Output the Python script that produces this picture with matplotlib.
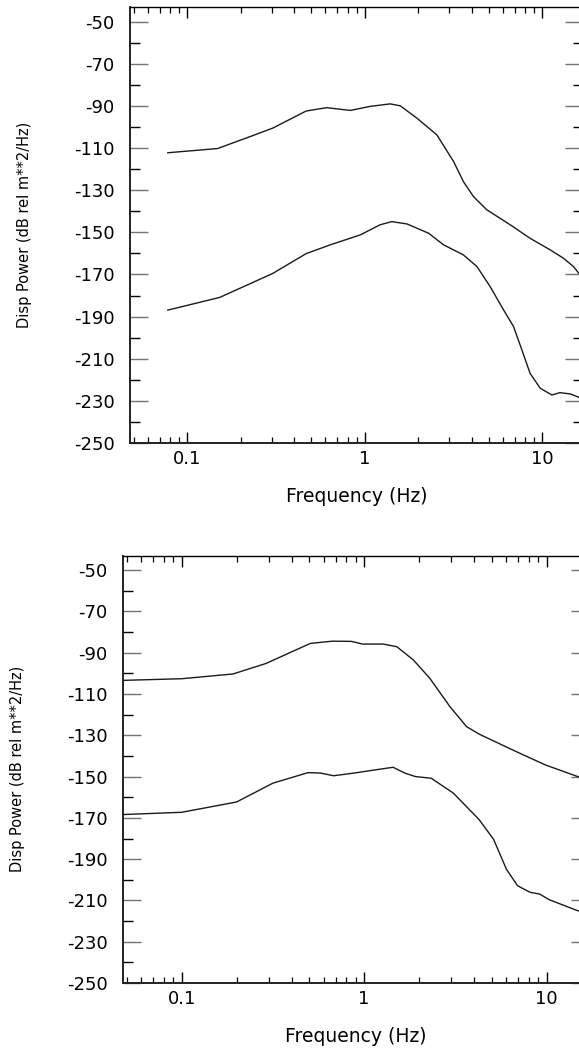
import matplotlib
matplotlib.use("Agg")
import matplotlib.pyplot as plt
from matplotlib import font_manager
from matplotlib.ticker import FixedLocator, LogLocator, NullFormatter, FuncFormatter
import numpy as np

# top panel, upper curve
freq_a1 = [0.0776, 0.148, 0.228, 0.303, 0.467, 0.608, 0.64, 0.83, 1.07, 1.39, 1.585,
           1.97, 2.55, 3.17, 3.60, 4.10, 4.88, 6.61, 8.55, 11.1, 13.2, 15.0, 16.1, 17.0]
pow_a1 = [-112.2, -110.2, -104.4, -100.5, -92.4, -90.8, -91.0, -92.1, -90.2, -89.0, -89.9,
          -95.8, -103.7, -116.4, -125.9, -133.0, -139.3, -146.4, -152.8, -158.3, -162.3, -166.2, -169.4, -171.0]

# top panel, lower curve
freq_a2 = [0.0776, 0.152, 0.303, 0.467, 0.64, 0.944, 1.22, 1.42, 1.73, 2.29, 2.78,
           3.60, 4.29, 5.09, 6.06, 6.90, 7.69, 8.55, 9.75, 11.35, 12.6, 14.4, 16.1, 17.0]
pow_a2 = [-186.9, -180.9, -169.5, -160.1, -155.9, -151.2, -146.4, -144.9, -146.0, -150.4, -155.9,
          -160.7, -166.2, -175.7, -186.8, -194.7, -205.8, -216.9, -224.0, -227.2, -226.1, -226.7, -228.3, -228.8]

# bottom panel, upper curve
freq_b1 = [0.0475, 0.1, 0.191, 0.29, 0.402, 0.507, 0.67, 0.85, 0.98, 1.27,
           1.51, 1.86, 2.29, 2.95, 3.64, 4.28, 6.81, 9.87, 14.8, 17.0]
pow_b1 = [-103.4, -102.6, -100.3, -95.2, -89.5, -85.5, -84.4, -84.5, -85.8, -85.8,
          -87.1, -93.5, -102.4, -116.1, -125.8, -129.5, -137.9, -144.4, -150.0, -151.2]

# bottom panel, lower curve
freq_b2 = [0.0475, 0.1, 0.2, 0.316, 0.492, 0.577, 0.68, 0.88, 1.16, 1.44,
           1.68, 1.91, 2.33, 3.08, 4.26, 5.12, 6.02, 6.93, 8.14, 9.15, 10.3, 14.7, 17.0]
pow_b2 = [-168.4, -167.3, -162.3, -153.2, -148.1, -148.3, -149.6, -148.3, -146.7, -145.5,
          -148.4, -150.0, -150.8, -158.0, -170.8, -180.4, -194.9, -202.9, -206.1, -206.9, -209.6, -214.9, -216.0]

y_major = list(range(-50, -251, -20))
y_minor = list(range(-60, -251, -20))
x_label = "Frequency (Hz)"
y_label = "Disp Power (dB rel m**2/Hz)"

plt.rcParams['axes.unicode_minus'] = False

ylab_prop = font_manager.FontProperties(family="DejaVu Sans", size=10.5)

W, H = 579, 1050
fig = plt.figure(figsize=(W / 100, H / 100), dpi=100)


def px_rect(left, right, top, bottom):
    return [left / W, 1 - bottom / H, (right - left) / W, (bottom - top) / H]


def make_panel(rect, curves, xlab_y):
    ax = fig.add_axes(rect)
    for f, p in curves:
        ax.plot(f, p, color="#1a1a1a", lw=1.0, solid_joinstyle="round")
    ax.set_xscale("log")
    ax.set_xlim(0.0475, 17)
    ax.set_ylim(-250, -43)

    ax.xaxis.set_major_locator(FixedLocator([0.1, 1, 10]))
    ax.xaxis.set_major_formatter(FuncFormatter(lambda v, pos: "%g" % v))
    ax.xaxis.set_minor_locator(LogLocator(base=10, subs=np.arange(2, 10)))
    ax.xaxis.set_minor_formatter(NullFormatter())
    ax.yaxis.set_major_locator(FixedLocator(y_major))
    ax.yaxis.set_minor_locator(FixedLocator(y_minor))

    ax.tick_params(axis="x", which="major", direction="in", length=8, width=1,
                   top=True, pad=5, labelsize=13)
    ax.tick_params(axis="x", which="minor", direction="in", length=4.5, width=0.9, top=True)
    ax.tick_params(axis="y", which="major", direction="in", length=13, width=1,
                   right=True, pad=11, labelsize=13, color="0.45")
    ax.tick_params(axis="y", which="minor", direction="in", length=7, width=1, right=True)

    for s in ["left", "bottom"]:
        ax.spines[s].set_linewidth(1.4)
        ax.spines[s].set_color("#222222")
    ax.spines["top"].set_linewidth(1.0)
    ax.spines["right"].set_linewidth(1.0)

    ax.set_xlabel(x_label, fontsize=13.5)
    ax.xaxis.set_label_coords(0.5, xlab_y)
    ax.set_ylabel(y_label, fontproperties=ylab_prop,
                  rotation_mode="default", va="center", ha="center")
    return ax


ax1 = make_panel(px_rect(130, 583, 7, 443), [(freq_a1, pow_a1), (freq_a2, pow_a2)], -0.101)
ax1.yaxis.set_label_coords((25 - 130) / 453, 0.5)

ax2 = make_panel(px_rect(122.7, 588.7, 555.7, 983), [(freq_b1, pow_b1), (freq_b2, pow_b2)], -0.104)
ax2.yaxis.set_label_coords((18 - 122.7) / 466, 0.5)

fig.savefig("out.png", dpi=100)
